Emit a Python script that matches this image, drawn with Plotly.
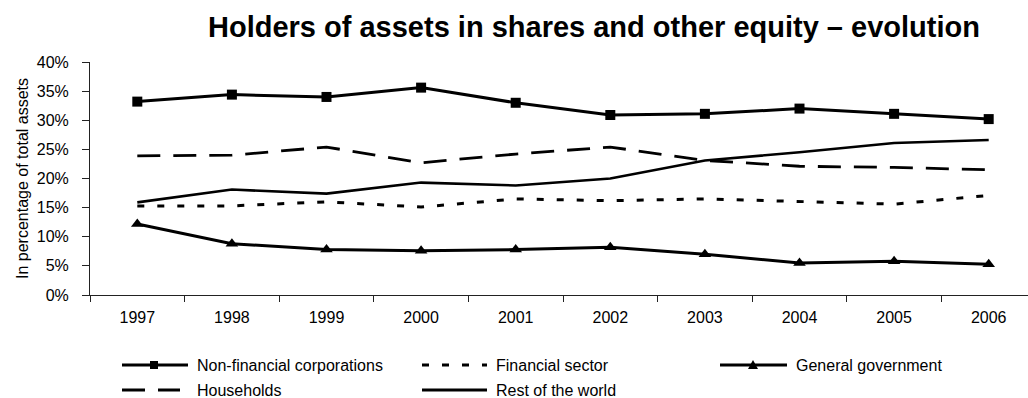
import plotly.graph_objects as go

# Holders of assets in shares and other equity, share of total assets (%)
years = ["1997", "1998", "1999", "2000", "2001", "2002", "2003", "2004", "2005", "2006"]
non_financial_corporations = [33.2, 34.4, 34.0, 35.6, 33.0, 30.9, 31.1, 32.0, 31.1, 30.2]
households = [23.9, 24.0, 25.4, 22.7, 24.2, 25.4, 23.1, 22.1, 21.9, 21.5]
financial_sector = [15.3, 15.3, 16.0, 15.1, 16.5, 16.2, 16.5, 16.1, 15.6, 17.1]
rest_of_world = [15.9, 18.1, 17.4, 19.3, 18.8, 20.0, 23.1, 24.5, 26.1, 26.6]
general_government = [12.2, 8.8, 7.8, 7.6, 7.8, 8.2, 7.0, 5.5, 5.8, 5.3]
y_ticks = [0, 5, 10, 15, 20, 25, 30, 35, 40]
y_tick_labels = ["0%", "5%", "10%", "15%", "20%", "25%", "30%", "35%", "40%"]

FONT = "Arial, 'Liberation Sans', sans-serif"
W, H = 1028, 398
M_L, M_R, M_T, M_B = 90, 0, 62, 103
PLOT_W = W - M_L - M_R
PLOT_H = H - M_T - M_B

series = [
    dict(name="Non-financial corporations", y=non_financial_corporations,
         dash="solid", width=3, marker="square", msize=10),
    dict(name="Financial sector", y=financial_sector,
         dash="7px,13px", width=3, marker=None, msize=0),
    dict(name="General government", y=general_government,
         dash="solid", width=3, marker="triangle-up", msize=11),
    dict(name="Households", y=households,
         dash="23px,13px", width=2.8, marker=None, msize=0),
    dict(name="Rest of the world", y=rest_of_world,
         dash="solid", width=2.6, marker=None, msize=0),
]

fig = go.Figure()
for s in series:
    fig.add_trace(go.Scatter(
        x=years, y=s["y"], name=s["name"],
        mode="lines+markers" if s["marker"] else "lines",
        line=dict(color="black", width=s["width"], dash=s["dash"]),
        marker=dict(symbol=s["marker"] or "circle", size=s["msize"], color="black"),
        showlegend=False, cliponaxis=False,
    ))


def px_x(px):
    return (px - M_L) / PLOT_W


def px_y(py):
    return (H - M_B - py) / PLOT_H


# Legend laid out in three columns / two rows below the axis
legend_items = [
    # (series index, swatch start px, swatch end px, text px, row y px, marker centre px)
    (0, 122, 188, 195, 365, 154),
    (1, 422, 487, 494, 365, None),
    (2, 720, 787, 794, 365, 753),
    (3, 122, 180, 195, 390, None),
    (4, 422, 487, 494, 390, None),
]

shapes = []
annotations = []
for idx, x0, x1, xt, yr, xm in legend_items:
    s = series[idx]
    shapes.append(dict(
        type="line", xref="paper", yref="paper",
        x0=px_x(x0), x1=px_x(x1), y0=px_y(yr), y1=px_y(yr),
        line=dict(color="black", width=3, dash=s["dash"]),
    ))
    if s["marker"] == "square":
        h = 4
        shapes.append(dict(
            type="rect", xref="paper", yref="paper",
            x0=px_x(xm - h), x1=px_x(xm + h), y0=px_y(yr + h), y1=px_y(yr - h),
            fillcolor="black", line=dict(width=0),
        ))
    elif s["marker"] == "triangle-up":
        path = "M {:.5f} {:.5f} L {:.5f} {:.5f} L {:.5f} {:.5f} Z".format(
            px_x(xm - 5), px_y(yr + 4), px_x(xm + 5), px_y(yr + 4), px_x(xm), px_y(yr - 5))
        shapes.append(dict(
            type="path", xref="paper", yref="paper", path=path,
            fillcolor="black", line=dict(width=0),
        ))
    annotations.append(dict(
        text=s["name"], xref="paper", yref="paper",
        x=px_x(xt), y=px_y(yr), xanchor="left", yanchor="middle",
        showarrow=False, font=dict(family=FONT, size=16, color="black"),
    ))

fig.update_layout(
    width=W, height=H,
    margin=dict(l=M_L, r=M_R, t=M_T, b=M_B),
    paper_bgcolor="white", plot_bgcolor="white",
    font=dict(family=FONT, size=16, color="black"),
    title=dict(
        text="Holders of assets in shares and other equity – evolution",
        font=dict(family=FONT, size=29, color="black", weight="bold"),
        x=594 / W, xanchor="center", xref="container",
        y=1 - 27 / H, yanchor="middle", yref="container",
    ),
    shapes=shapes,
    annotations=annotations,
    showlegend=False,
)

fig.update_xaxes(
    type="category", range=[-0.5, -0.5 + PLOT_W / 94.6],
    tickson="boundaries", ticks="outside", ticklen=6, tickcolor="#222",
    showline=True, linecolor="#222", linewidth=1, showgrid=False,
    tickfont=dict(family=FONT, size=16), ticklabelstandoff=8,
)
fig.update_yaxes(
    range=[0, 40], tickmode="array", tickvals=y_ticks, ticktext=y_tick_labels,
    ticks="outside", ticklen=7, tickcolor="#222",
    showline=True, linecolor="#222", linewidth=1, showgrid=False, zeroline=False,
    tickfont=dict(family=FONT, size=16), ticklabelstandoff=10,
    title=dict(text="In percentage of total assets", font=dict(family=FONT, size=16), standoff=4),
)

fig.write_html("out.html")
